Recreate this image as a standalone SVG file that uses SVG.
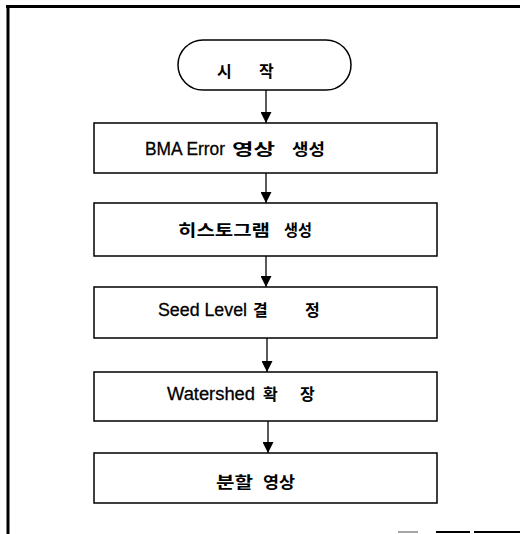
<svg xmlns="http://www.w3.org/2000/svg" width="520" height="534" viewBox="0 0 520 534">
<style>
.box{fill:#fff;stroke:#000;stroke-width:1.5}
.frame{stroke:#000;stroke-width:3;fill:none}
.conn{stroke:#000;stroke-width:1.3;fill:none}
.lat{font-family:"Liberation Sans",Arial,sans-serif;font-size:18px;fill:#000;stroke:#000;stroke-width:0.3}
.ko{font-family:"Noto Sans CJK KR","Noto Sans",sans-serif;font-size:16px;font-weight:bold;fill:#000}
</style>
<defs>
<marker id="ah" markerWidth="12" markerHeight="11" refX="12" refY="6" orient="auto" markerUnits="userSpaceOnUse" viewBox="0 0 12 12">
<path d="M0,0 L12,6 L0,12 Z" fill="#000"/>
</marker>
</defs>
<rect width="520" height="534" fill="#fff"/>
<g id="frame">
<path class="frame" d="M6,6.5 H520 M8,5 V534"/>
<path d="M398,532 H418" stroke="#888" stroke-width="1.5" fill="none"/>
<path d="M436,532 H470 M474,532 H520" stroke="#000" stroke-width="2" fill="none"/>
</g>
<g id="connectors">
<line class="conn" x1="266" y1="90" x2="266" y2="123" marker-end="url(#ah)"/>
<line class="conn" x1="266" y1="173" x2="266" y2="203" marker-end="url(#ah)"/>
<line class="conn" x1="266" y1="256" x2="266" y2="287" marker-end="url(#ah)"/>
<line class="conn" x1="267" y1="338" x2="267" y2="372" marker-end="url(#ah)"/>
<line class="conn" x1="268" y1="421" x2="268" y2="453" marker-end="url(#ah)"/>
</g>
<g id="start">
<rect class="box" x="178" y="40" width="173" height="50" rx="25" ry="25"/>
<text class="ko" x="217" y="77">시</text>
<text class="ko" x="259" y="77">작</text>
</g>
<g id="bma">
<rect class="box" x="94" y="123" width="343" height="50"/>
<text class="lat" x="145" y="155" textLength="80" lengthAdjust="spacingAndGlyphs">BMA Error</text>
<text class="ko" x="232" y="155" textLength="43" lengthAdjust="spacingAndGlyphs">영상</text>
<text class="ko" x="292" y="155" textLength="33" lengthAdjust="spacingAndGlyphs">생성</text>
</g>
<g id="histogram">
<rect class="box" x="94" y="203" width="343" height="53"/>
<text class="ko" x="178" y="236" textLength="92" lengthAdjust="spacingAndGlyphs">히스토그램</text>
<text class="ko" x="284" y="236" textLength="28" lengthAdjust="spacingAndGlyphs">생성</text>
</g>
<g id="seed">
<rect class="box" x="94" y="287" width="343" height="51"/>
<text class="lat" x="158" y="316" textLength="89" lengthAdjust="spacingAndGlyphs">Seed Level</text>
<text class="ko" x="253" y="316">결</text>
<text class="ko" x="305" y="316">정</text>
</g>
<g id="watershed">
<rect class="box" x="94" y="372" width="343" height="49"/>
<text class="lat" x="167" y="400" textLength="88" lengthAdjust="spacingAndGlyphs">Watershed</text>
<text class="ko" x="263" y="400">확</text>
<text class="ko" x="300" y="400">장</text>
</g>
<g id="result">
<rect class="box" x="94" y="453" width="343" height="50"/>
<text class="ko" x="216" y="488" textLength="37" lengthAdjust="spacingAndGlyphs">분할</text>
<text class="ko" x="263" y="488" textLength="32" lengthAdjust="spacingAndGlyphs">영상</text>
</g>
</svg>
